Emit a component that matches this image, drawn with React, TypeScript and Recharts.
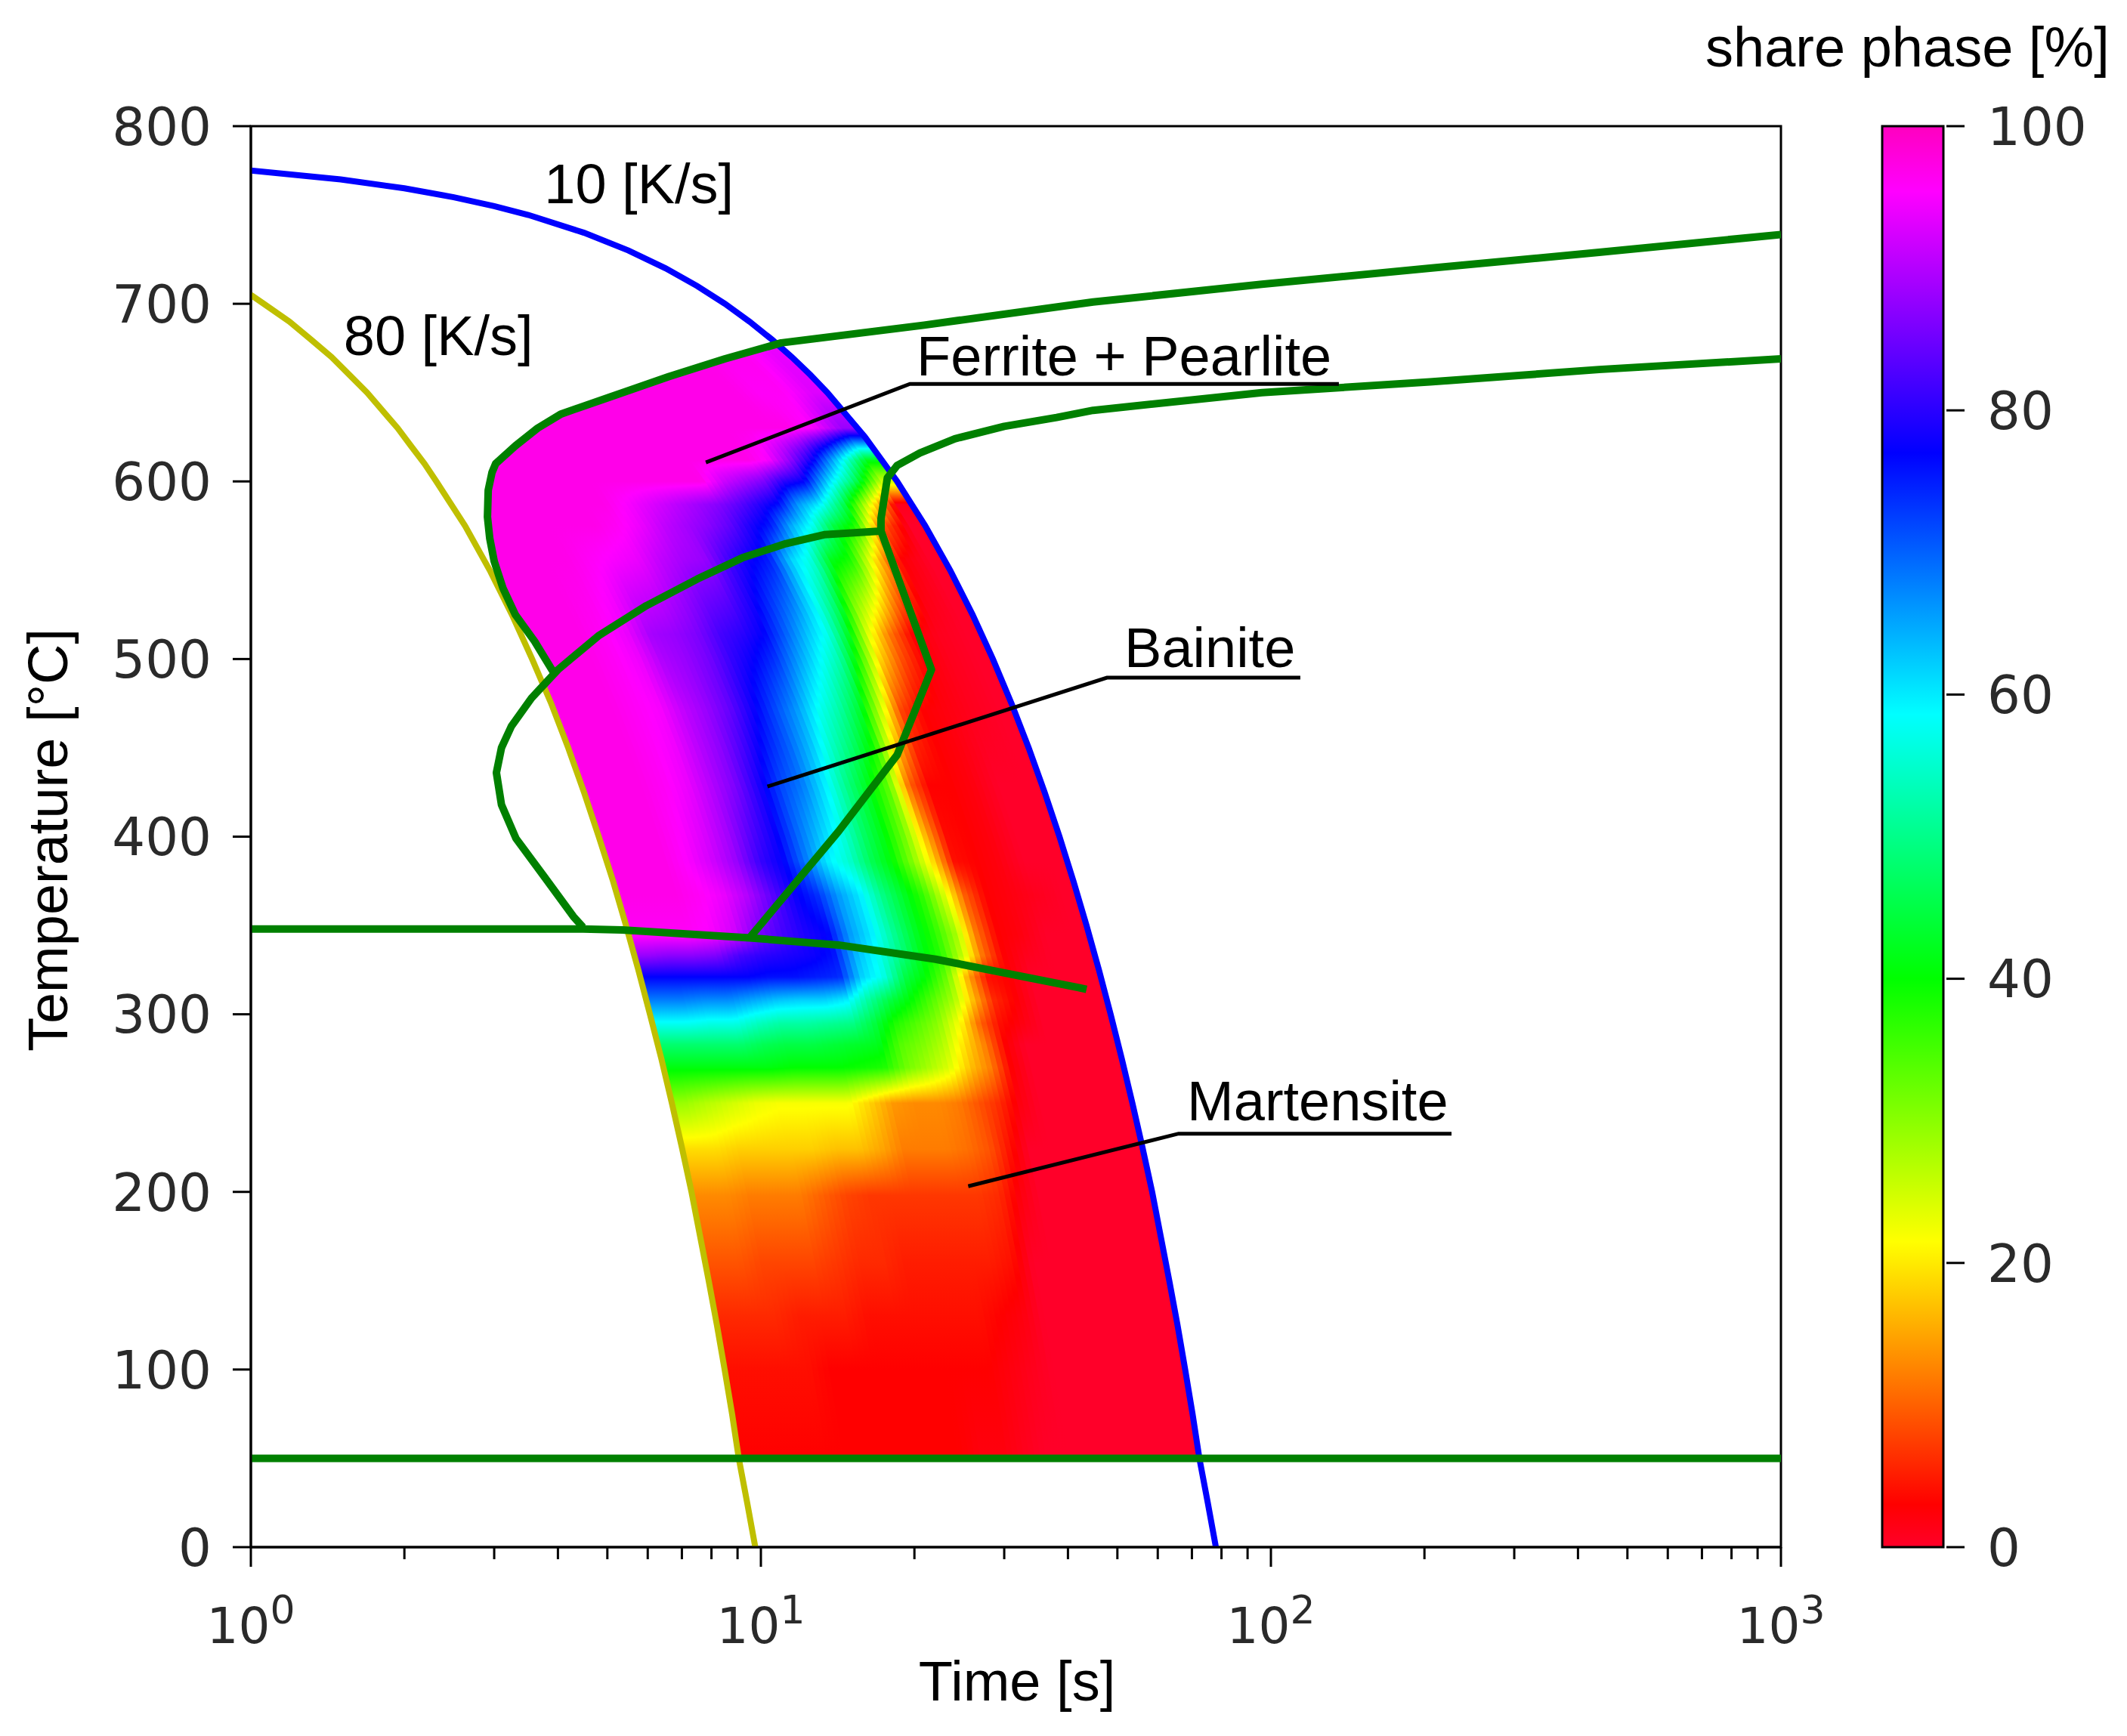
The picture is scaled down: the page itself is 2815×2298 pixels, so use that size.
import React from "react";
import { ComposedChart, Area, Line, Scatter, XAxis, YAxis, ReferenceArea, Bar } from "recharts";

const W = 2815;
const H = 2298;

// cooling curves: temperature [°C] -> time [s]
const coolTemps = [0, 25, 50, 75, 100, 125, 150, 175, 200, 225, 250, 275, 300, 325, 350, 375, 400, 425, 450, 475, 500, 525, 550, 575, 600, 625, 650, 660, 670, 680, 690, 700, 710, 720, 730, 740, 750, 755, 760, 765, 770, 775];
const time10Ks = [78.0, 75.2, 72.4, 70.2, 67.9, 65.6, 63.2, 60.8, 58.5, 56.0, 53.5, 51.0, 48.5, 46.0, 43.5, 41.0, 38.5, 36.0, 33.5, 31.0, 28.5, 26.0, 23.5, 21.0, 18.5, 16.0, 13.5, 12.5, 11.5, 10.5, 9.5, 8.5, 7.5, 6.5, 5.5, 4.5, 3.5, 3.0, 2.5, 2.0, 1.5, 1.0];
const temps80Ks = [0, 25, 50, 75, 100, 125, 150, 175, 200, 225, 250, 275, 300, 325, 350, 375, 400, 425, 450, 475, 500, 525, 550, 575, 600, 610, 620, 630, 640, 650, 660, 670, 680, 690, 700, 705];
const time80Ks = [9.75, 9.4, 9.05, 8.78, 8.49, 8.2, 7.9, 7.6, 7.31, 7.0, 6.69, 6.38, 6.06, 5.75, 5.44, 5.13, 4.81, 4.5, 4.19, 3.88, 3.56, 3.25, 2.94, 2.63, 2.31, 2.19, 2.06, 1.94, 1.81, 1.69, 1.56, 1.44, 1.31, 1.19, 1.06, 1.0];

// phase boundaries (green)
const ferriteTime = [3.93, 3.6, 3.3, 3.12, 3.0, 2.94, 2.91, 2.92, 2.97, 3.02, 3.3, 3.65, 4.06, 5.0, 6.6, 8.5, 10.96, 20.9, 44.8, 96, 205, 440, 1000];
const ferriteTemp = [492, 510, 525, 540, 555, 568, 580, 595, 605, 610, 620, 630, 638, 647, 659, 669, 678, 688, 701, 711, 720, 729, 739];
const pearliteTime = [1000, 440, 205, 96, 44.8, 38, 30, 24, 20.5, 18.5, 17.7, 17.2, 17.2, 21.6, 18.5, 14.2, 9.5];
const pearliteTemp = [669, 663, 656, 650, 640, 636, 631, 624, 616, 609, 602, 579, 572, 494, 446, 403, 343];
const bainiteTime = [4.48, 4.29, 3.77, 3.31, 3.1, 3.03, 3.1, 3.24, 3.55, 4.0, 4.8, 5.96, 7.5, 9.2, 11.2, 13.3, 17.2];
const bainiteTemp = [349, 355, 377, 399, 418, 436, 450, 462, 478, 494, 513, 530, 545, 557, 565, 570, 572];
const msTime = [1, 4.48, 5.35, 9.5, 14.2, 22, 42, 43.5];
const msTemp = [348, 348, 347.5, 343, 339, 331, 315, 314];
const mfTime = [1, 1000];
const mfTemp = [50, 50];

// share phase field: samples along cooling curves of the given rates [K/s], share [%] by temperature
const fieldRates = [76, 68.5, 61.5, 55, 49.5, 44.5, 40, 36, 32.5, 29.5, 26.7, 24.2, 22, 20, 18.2, 16.7, 15.2, 13.7, 12.2, 10.7];
const fieldTemps = [700, 650, 630, 612, 600, 587, 575, 556, 514, 471, 429, 386, 367, 345, 333, 321, 308, 295, 283, 270, 250, 224, 198, 160, 130, 100, 50];
const fieldShare = [
  [97, 97, 97, 97, 97, 97, 97, 97, 97, 97, 97, 97, 97, 96, 88, 77, 68, 58, 48, 41, 29, 19, 13, 9, 6, 4, 3],
  [97, 97, 97, 97, 97, 97, 97, 97, 97, 97, 97, 97, 97, 96, 87, 77, 68, 58, 48, 41, 27, 19, 13, 9, 6, 4, 3],
  [97, 97, 97, 97, 97, 97, 97, 97, 97, 97, 97, 97, 97, 96, 87, 77, 67, 57, 48, 41, 25, 18, 12, 8, 6, 4, 3],
  [97, 97, 97, 97, 97, 97, 97, 97, 96, 96, 96, 95, 96, 95, 86, 77, 67, 57, 48, 41, 23, 18, 12, 8, 5, 4, 3],
  [97, 97, 97, 97, 97, 97, 97, 96, 94, 95, 94, 92, 94, 92, 82, 77, 65, 54, 46, 41, 22, 18, 12, 8, 5, 3, 3],
  [97, 97, 97, 97, 97, 97, 97, 95, 89, 91, 90, 88, 90, 86, 80, 76, 63, 52, 45, 40, 22, 18, 10, 7, 5, 3, 3],
  [97, 97, 97, 97, 97, 97, 96, 94, 88, 88, 86, 81, 84, 82, 79, 76, 62, 52, 45, 40, 22, 17, 8, 6, 4, 3, 3],
  [97, 97, 97, 97, 97, 95, 94, 91, 86, 84, 79, 77, 78, 79, 78, 75, 62, 51, 44, 40, 22, 17, 7, 6, 4, 3, 3],
  [97, 97, 97, 97, 97, 93, 91, 89, 82, 78, 72, 68, 74, 77, 76, 74, 60, 50, 43, 39, 18, 15, 7, 5, 4, 3, 3],
  [97, 97, 97, 97, 97, 91, 89, 88, 80, 72, 68, 60, 66, 66, 64, 62, 52, 45, 42, 38, 14, 12, 7, 5, 4, 3, 3],
  [97, 97, 97, 97, 97, 89, 87, 82, 77, 66, 60, 55, 60, 60, 58, 57, 45, 38, 34, 32, 13, 12, 7, 5, 4, 3, 2],
  [97, 97, 97, 97, 97, 87, 84, 78, 70, 58, 50, 46, 50, 51, 50, 45, 40, 34, 31, 28, 13, 12, 7, 5, 4, 3, 2],
  [97, 97, 97, 97, 92, 84, 79, 75, 63, 52, 42, 40, 43, 43, 42, 40, 34, 30, 27, 24, 12, 11, 7, 5, 3, 2, 1],
  [97, 97, 97, 97, 89, 80, 75, 62, 57, 43, 33, 30, 36, 37, 37, 32, 28, 22, 19, 17, 9, 9, 6, 4, 2, 1, 0],
  [97, 97, 97, 97, 86, 76, 64, 56, 42, 25, 10, 18, 24, 28, 26, 15, 16, 10, 12, 12, 6, 4, 2, 0, 0, 0, 0],
  [97, 97, 97, 95, 80, 66, 58, 42, 24, 8, 3, 4, 10, 12, 12, 4, 6, 4, 3, 3, 2, 0, 0, 0, 0, 0, 0],
  [97, 97, 97, 88, 77, 60, 45, 38, 12, 3, 3, 3, 3, 3, 3, 3, 3, 2, 0, 0, 0, 0, 0, 0, 0, 0, 0],
  [97, 96, 97, 78, 62, 47, 38, 20, 3, 2, 2, 2, 2, 2, 1, 0, 0, 0, 0, 0, 0, 0, 0, 0, 0, 0, 0],
  [97, 96, 95, 62, 48, 25, 10, 3, 1, 1, 0, 0, 1, 0, 0, 0, 0, 0, 0, 0, 0, 0, 0, 0, 0, 0, 0],
  [95, 93, 88, 42, 25, 1, 0, 0, 0, 0, 0, 0, 0, 0, 0, 0, 0, 0, 0, 0, 0, 0, 0, 0, 0, 0, 0],
];
const FAST_RATE = 80;
const SLOW_RATE = 10;

// ticks
const xMajor = [1, 10, 100, 1000];
const xExponents = ["0", "1", "2", "3"];
const xMinor = [2, 3, 4, 5, 6, 7, 8, 9, 20, 30, 40, 50, 60, 70, 80, 90, 200, 300, 400, 500, 600, 700, 800, 900];
const yTicks = [0, 100, 200, 300, 400, 500, 600, 700, 800];
const cbTicks = [0, 20, 40, 60, 80, 100];

// annotations (time [s], temperature [°C])
const annotations = [
  { t: 3.76, T: 756.6, text: "10 [K/s]" },
  { t: 1.52, T: 671, text: "80 [K/s]" },
  { t: 20.2, T: 659.6, text: "Ferrite + Pearlite" },
  { t: 51.6, T: 495.5, text: "Bainite" },
  { t: 68.5, T: 240.4, text: "Martensite" },
];
const leaderFerrite = { time: [7.8, 19.6, 135.9], temp: [610.7, 654.9, 654.9] };
const leaderBainite = { time: [10.3, 47.7, 114.2], temp: [428.2, 489.5, 489.5] };
const leaderMartensite = { time: [25.5, 65.9, 226], temp: [203.2, 232.8, 232.8] };

// gist_rainbow colormap
const CMAP: [number, number[]][] = [
  [0, [255, 0, 41]],
  [3, [255, 0, 0]],
  [21.5, [255, 255, 0]],
  [40, [0, 255, 0]],
  [58.6, [0, 255, 255]],
  [77, [0, 0, 255]],
  [95.4, [255, 0, 255]],
  [100, [255, 0, 191]],
];

function cmap(s: number) {
  for (let i = 1; i < CMAP.length; i++) {
    const [s0, c0] = CMAP[i - 1];
    const [s1, c1] = CMAP[i];
    if (s <= s1) {
      const f = Math.max(0, (s - s0) / (s1 - s0));
      return `rgb(${c0.map((v, j) => Math.round(v + (c1[j] - v) * f)).join(",")})`;
    }
  }
  return "rgb(255,0,191)";
}

const FIELD_TOP = 700;
const FIELD_BOTTOM = 50;

function fieldStops(shares: number[]) {
  const pts = fieldTemps.map((T, k) => ({ o: (FIELD_TOP - T) / (FIELD_TOP - FIELD_BOTTOM), s: shares[k] }));
  const out = [pts[0]];
  for (let k = 1; k < pts.length; k++) {
    const a = pts[k - 1];
    const b = pts[k];
    const mids = CMAP.map((c) => c[0])
      .filter((v) => (v - a.s) * (v - b.s) < 0)
      .map((v) => ({ o: a.o + ((v - a.s) / (b.s - a.s)) * (b.o - a.o), s: v }))
      .sort((p, q) => p.o - q.o);
    out.push(...mids, b);
  }
  return out;
}

// smooth shading between the sampled cooling rates (like gouraud shading)
function sharesAtRate(r: number) {
  if (r >= fieldRates[0]) return fieldShare[0];
  const last = fieldRates.length - 1;
  if (r <= fieldRates[last]) return fieldShare[last];
  let i = 0;
  while (fieldRates[i + 1] > r) i++;
  const f = Math.log(fieldRates[i] / r) / Math.log(fieldRates[i] / fieldRates[i + 1]);
  return fieldShare[i].map((s, k) => s + (fieldShare[i + 1][k] - s) * f);
}

const toPts = (time: number[], temp: number[]) => temp.map((T, i) => ({ T, t: time[i] }));

const SUB = 84;
const strips = Array.from({ length: SUB }, (_, j) => {
  const rFast = FAST_RATE * Math.pow(SLOW_RATE / FAST_RATE, j / SUB);
  const rSlow = FAST_RATE * Math.pow(SLOW_RATE / FAST_RATE, (j + 1) / SUB);
  const overlap = j === SUB - 1 ? 1 : 1.01;
  const data = coolTemps
    .map((T, k) => ({ T, t: [(time10Ks[k] * SLOW_RATE) / rFast, ((time10Ks[k] * SLOW_RATE) / rSlow) * overlap] }))
    .filter((d) => d.T >= FIELD_BOTTOM && d.T <= FIELD_TOP);
  return { id: `strip-${j}`, data, stops: fieldStops(sharesAtRate(Math.sqrt(rFast * rSlow))) };
});

// white area outside the ferrite start curve
const maskData = [
  { T: 485, t: [1.01, 3.75] },
  ...ferriteTemp.filter((T) => T <= 678).map((T, i) => ({ T, t: [1.01, ferriteTime[i]] })),
  { T: 690, t: [1.01, 11.6] },
  { T: 705, t: [1.01, 12.2] },
];

const TICK_FONT = "DejaVu Sans";
const TEXT_FONT = "Liberation Sans, Arial, sans-serif";

const XTick = ({ x, y, payload }: any) => {
  const k = xMajor.indexOf(payload.value);
  return (
    <g>
      <line x1={x} x2={x} y1={y} y2={y + (k >= 0 ? 26 : 16)} stroke="#000" strokeWidth={3} />
      {k >= 0 && (
        <text x={x} y={y + 127} textAnchor="middle" fontFamily={TICK_FONT} fontSize={66} fill="#2a2a2a">
          10
          <tspan dy={-26} fontSize={52}>
            {xExponents[k]}
          </tspan>
        </text>
      )}
    </g>
  );
};

const YTick = ({ x, y, payload }: any) => (
  <g>
    <line x1={x - 24} x2={x} y1={y} y2={y} stroke="#000" strokeWidth={3} />
    <text x={x - 52} y={y} dy="0.36em" textAnchor="end" fontFamily={TICK_FONT} fontSize={69} fill="#2a2a2a">
      {payload.value}
    </text>
  </g>
);

const CbTick = ({ x, y, payload }: any) => (
  <g>
    <line x1={x} x2={x + 24} y1={y} y2={y} stroke="#000" strokeWidth={3} />
    <text x={x + 54} y={y} dy="0.36em" textAnchor="start" fontFamily={TICK_FONT} fontSize={69} fill="#2a2a2a">
      {payload.value}
    </text>
  </g>
);

const LabelShape = (p: any) => (
  <text x={p.cx} y={p.cy} fontFamily={TEXT_FONT} fontSize={74} fill="#000">
    {p.payload.text}
  </text>
);

const lineProps = { dot: false, activeDot: false, isAnimationActive: false, type: "linear" as const, dataKey: "t" };
const GREEN = "#008000";

export default function App() {
  return (
    <div style={{ position: "absolute", left: 0, top: 0, width: W, height: H, background: "#fff" }}>
      <div style={{ position: "absolute", left: 0, top: 0 }}>
        <ComposedChart layout="vertical" width={W} height={H} margin={{ top: 167, right: 458, bottom: 130, left: 132 }}>
          <defs>
            {strips.map((s) => (
              <linearGradient key={s.id} id={s.id} x1="0" y1="0" x2="0" y2="1">
                {s.stops.map((st, k) => (
                  <stop key={k} offset={st.o} stopColor={cmap(st.s)} />
                ))}
              </linearGradient>
            ))}
          </defs>
          <XAxis
            type="number"
            dataKey="t"
            scale="log"
            domain={[1, 1000]}
            allowDataOverflow
            ticks={[...xMajor, ...xMinor].sort((a, b) => a - b)}
            interval={0}
            tickSize={0}
            tickMargin={0}
            tickLine={false}
            tick={<XTick />}
            axisLine={{ stroke: "#000", strokeWidth: 3 }}
            height={120}
          />
          <YAxis
            type="number"
            dataKey="T"
            domain={[0, 800]}
            reversed
            allowDataOverflow
            ticks={yTicks}
            interval={0}
            tickSize={0}
            tickMargin={0}
            tickLine={false}
            tick={<YTick />}
            axisLine={{ stroke: "#000", strokeWidth: 3 }}
            width={200}
          />
          {strips.map((s) => (
            <Area
              key={s.id}
              data={s.data}
              dataKey="t"
              type="linear"
              stroke="none"
              fill={`url(#${s.id})`}
              fillOpacity={1}
              isAnimationActive={false}
            />
          ))}
          <Area data={maskData} dataKey="t" type="linear" stroke="none" fill="#fff" fillOpacity={1} isAnimationActive={false} />
          <Line {...lineProps} data={toPts(time80Ks, temps80Ks)} stroke="#bfbf00" strokeWidth={8} />
          <Line {...lineProps} data={toPts(time10Ks, coolTemps)} stroke="#0000ff" strokeWidth={8} />
          <Line {...lineProps} data={toPts(ferriteTime, ferriteTemp)} stroke={GREEN} strokeWidth={10} strokeLinejoin="round" />
          <Line {...lineProps} data={toPts(pearliteTime, pearliteTemp)} stroke={GREEN} strokeWidth={10} strokeLinejoin="round" />
          <Line {...lineProps} data={toPts(bainiteTime, bainiteTemp)} stroke={GREEN} strokeWidth={10} strokeLinejoin="round" />
          <Line {...lineProps} data={toPts(msTime, msTemp)} stroke={GREEN} strokeWidth={10} strokeLinejoin="round" />
          <Line {...lineProps} data={toPts(mfTime, mfTemp)} stroke={GREEN} strokeWidth={10} />
          <Line {...lineProps} data={toPts(leaderFerrite.time, leaderFerrite.temp)} stroke="#000" strokeWidth={5} />
          <Line {...lineProps} data={toPts(leaderBainite.time, leaderBainite.temp)} stroke="#000" strokeWidth={5} />
          <Line {...lineProps} data={toPts(leaderMartensite.time, leaderMartensite.temp)} stroke="#000" strokeWidth={5} />
          <Scatter data={annotations} shape={<LabelShape />} isAnimationActive={false} />
          <ReferenceArea x1={1} x2={1000} y1={0} y2={800} fill="none" fillOpacity={0} stroke="#000" strokeWidth={3} />
        </ComposedChart>
      </div>
      <div style={{ position: "absolute", left: 0, top: 0 }}>
        <ComposedChart width={W} height={H} data={[{ name: "bar", v: 100 }]} margin={{ top: 167, right: 39, bottom: 250, left: 2486 }}>
          <defs>
            <linearGradient id="cbar" x1="0" y1="0" x2="0" y2="1">
              {[...CMAP].reverse().map(([s, c]) => (
                <stop key={s} offset={1 - s / 100} stopColor={`rgb(${c.join(",")})`} />
              ))}
            </linearGradient>
          </defs>
          <XAxis dataKey="name" type="category" hide />
          <YAxis
            orientation="right"
            type="number"
            domain={[0, 100]}
            ticks={cbTicks}
            interval={0}
            tickSize={0}
            tickMargin={0}
            tickLine={false}
            axisLine={false}
            tick={<CbTick />}
            width={200}
          />
          <Bar dataKey="v" fill="url(#cbar)" stroke="#000" strokeWidth={3} barSize={90} isAnimationActive={false} />
        </ComposedChart>
      </div>
      <svg width={W} height={H} style={{ position: "absolute", left: 0, top: 0, pointerEvents: "none" }}>
        <text x={2257} y={88} fontFamily={TEXT_FONT} fontSize={74} fill="#000">
          share phase [%]
        </text>
        <text x={1346} y={2251} textAnchor="middle" fontFamily={TEXT_FONT} fontSize={74} fill="#000">
          Time [s]
        </text>
        <text transform="translate(89,1112) rotate(-90)" textAnchor="middle" fontFamily={TEXT_FONT} fontSize={74} fill="#000">
          Temperature [°C]
        </text>
      </svg>
    </div>
  );
}
